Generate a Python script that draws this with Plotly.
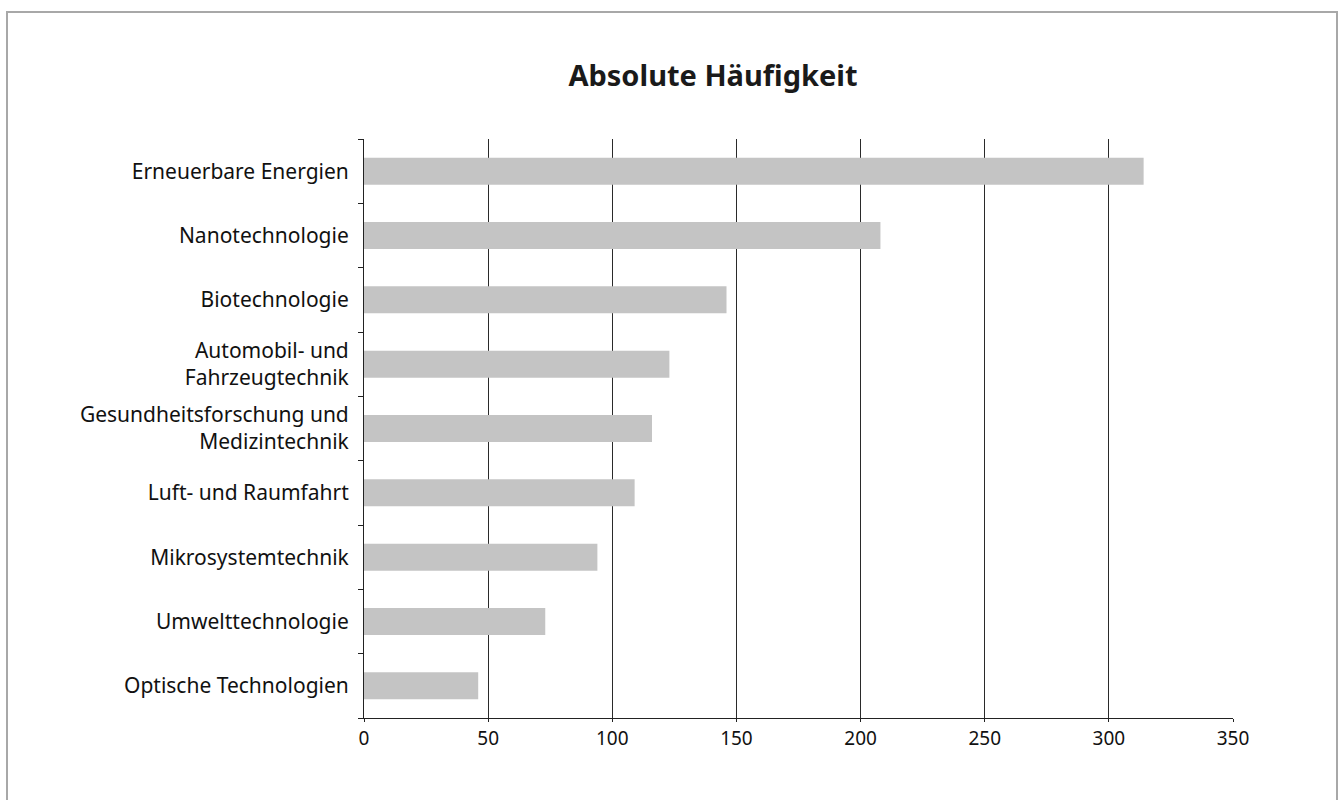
import plotly.graph_objects as go

# Kategorien (von oben nach unten) und absolute Häufigkeiten
categories = [
    "Erneuerbare Energien",
    "Nanotechnologie",
    "Biotechnologie",
    "Automobil- und<br>Fahrzeugtechnik",
    "Gesundheitsforschung und<br>Medizintechnik",
    "Luft- und Raumfahrt",
    "Mikrosystemtechnik",
    "Umwelttechnologie",
    "Optische Technologien",
]
values = [314, 208, 146, 123, 116, 109, 94, 73, 46]
x_ticks = [0, 50, 100, 150, 200, 250, 300, 350]

FONT = "Noto Sans"

fig = go.Figure(
    go.Bar(
        x=values,
        y=categories,
        orientation="h",
        marker=dict(color="#c4c4c4", line=dict(width=0)),
        width=0.42,
        hoverinfo="x+y",
    )
)

fig.update_layout(
    width=1340,
    height=800,
    margin=dict(l=364, r=107, t=139, b=82),
    paper_bgcolor="white",
    plot_bgcolor="white",
    showlegend=False,
    font=dict(family=FONT, size=20, color="#111"),
    title=dict(
        text="<b>Absolute Häufigkeit</b>",
        x=713 / 1340,
        xanchor="center",
        y=1 - 76 / 800,
        yanchor="middle",
        font=dict(family=FONT, size=29, color="#1a1a1a"),
    ),
    xaxis=dict(
        range=[0, 350],
        tickvals=x_ticks,
        ticktext=[str(v) for v in x_ticks],
        showgrid=True,
        gridcolor="#2a2a2a",
        gridwidth=1,
        zeroline=False,
        showline=True,
        linecolor="#222222",
        linewidth=1,
        ticks="outside",
        ticklen=3,
        tickcolor="#222222",
        tickfont=dict(family=FONT, size=19, color="#111"),
    ),
    yaxis=dict(
        categoryorder="array",
        categoryarray=list(reversed(categories)),
        showline=True,
        linecolor="#222222",
        linewidth=1,
        ticks="outside",
        tickson="boundaries",
        ticklen=5,
        tickcolor="#222222",
        showgrid=False,
        zeroline=False,
        ticklabelstandoff=10,
        tickfont=dict(family=FONT, size=21, color="#111"),
    ),
    shapes=[
        dict(
            type="rect",
            xref="paper",
            yref="paper",
            x0=(7 - 364) / 869,
            x1=(1337 - 364) / 869,
            y0=(718 - 810) / 579,
            y1=(718 - 12) / 579,
            line=dict(color="#a8a8a8", width=2),
            fillcolor="rgba(0,0,0,0)",
            layer="below",
        )
    ],
)

fig.write_html("out.html")
